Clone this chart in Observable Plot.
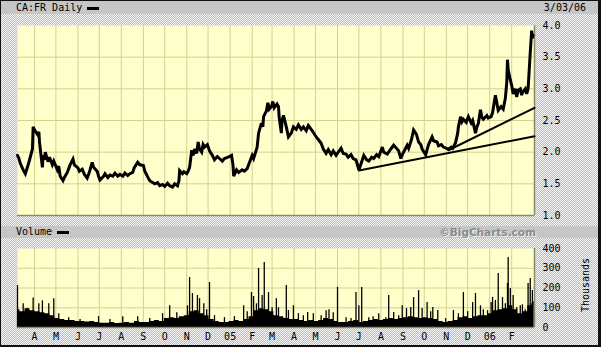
<!DOCTYPE html>
<html><head><meta charset="utf-8">
<script src="https://cdn.jsdelivr.net/npm/d3@7"></script>
<script src="https://cdn.jsdelivr.net/npm/@observablehq/plot@0.6"></script>
<style>
body{margin:0;background:#fff;}
#c{position:relative;width:601px;height:347px;overflow:hidden;
 background:repeating-conic-gradient(#bcbcbc 0 25%, #f6f6f6 0 50%) 0 0/2px 2px;
 font-family:"DejaVu Sans Mono",monospace;font-size:10px;color:#000;}
.hdr{position:absolute;left:1px;right:3px;background:#c6c6c6;}
.hdr span{position:absolute;line-height:13px;}
.dash{display:inline-block;width:12px;height:3px;background:#000;vertical-align:middle;margin-left:5px;}
#border{position:absolute;left:0;top:0;width:601px;height:347px;box-sizing:border-box;border:1px solid #111;border-right:3px solid #111;border-bottom:2px solid #111;pointer-events:none;}
.pl{position:absolute;left:0;}
#thou{position:absolute;left:556px;top:279px;width:60px;text-align:center;transform:rotate(-90deg);line-height:12px;font-size:10px;}
#bc{font-family:"DejaVu Sans",sans-serif;font-weight:bold;color:#8a8a8a;text-shadow:1px 1px 0 #eee;font-size:10.5px;}
</style></head>
<body>
<div id="c">
  <div class="hdr" style="top:1px;height:13px;"><span style="left:15px;top:0">CA:FR Daily<span class="dash" style="position:static"></span></span><span style="right:12px;top:0">3/03/06</span></div>
  <div class="hdr" style="top:226px;height:12px;"><span style="left:15px;top:0;line-height:12px">Volume<span class="dash" style="position:static"></span></span><span id="bc" style="right:62px;top:0;line-height:12px">©BigCharts.com</span></div>
  <div id="p1" class="pl" style="top:0"></div>
  <div id="p2" class="pl" style="top:240px"></div>
  <div id="thou">Thousands</div>
  <div id="border"></div>
</div>
<script>
// ---- data ----
// daily close, [date, price]
const priceSeries = [
["2004-03-08",1.95],["2004-03-10",1.90],["2004-03-12",1.82],["2004-03-16",1.72],["2004-03-19",1.66],["2004-03-23",1.80],["2004-03-25",1.88],["2004-03-29",2.05],["2004-03-30",2.40],["2004-04-01",2.35],["2004-04-05",2.28],["2004-04-07",2.32],["2004-04-08",2.15],["2004-04-12",1.76],["2004-04-13",1.95],["2004-04-15",1.88],["2004-04-16",2.00],["2004-04-20",1.85],["2004-04-22",1.92],["2004-04-26",1.80],["2004-04-28",1.86],
["2004-05-03",1.72],["2004-05-05",1.78],["2004-05-07",1.62],["2004-05-11",1.55],["2004-05-13",1.60],["2004-05-17",1.68],["2004-05-19",1.74],["2004-05-21",1.80],["2004-05-25",1.89],["2004-05-27",1.80],["2004-06-01",1.75],["2004-06-03",1.70],["2004-06-07",1.73],["2004-06-10",1.65],["2004-06-14",1.59],["2004-06-16",1.65],["2004-06-18",1.72],["2004-06-21",1.84],["2004-06-23",1.76],["2004-06-28",1.70],["2004-06-30",1.62],
["2004-07-02",1.56],["2004-07-07",1.62],["2004-07-09",1.66],["2004-07-13",1.60],["2004-07-16",1.64],["2004-07-20",1.62],["2004-07-23",1.67],["2004-07-27",1.62],["2004-07-30",1.65],["2004-08-03",1.62],["2004-08-06",1.67],["2004-08-10",1.63],["2004-08-13",1.66],["2004-08-17",1.68],["2004-08-19",1.75],["2004-08-24",1.84],["2004-08-27",1.80],["2004-09-01",1.79],["2004-09-03",1.70],["2004-09-08",1.59],["2004-09-10",1.55],["2004-09-14",1.52],["2004-09-17",1.50],["2004-09-21",1.52],["2004-09-24",1.47],["2004-09-28",1.49],
["2004-10-01",1.46],["2004-10-05",1.51],["2004-10-08",1.47],["2004-10-12",1.45],["2004-10-15",1.50],["2004-10-19",1.47],["2004-10-21",1.55],["2004-10-22",1.71],["2004-10-26",1.66],["2004-10-28",1.69],["2004-11-01",1.66],["2004-11-03",1.70],["2004-11-05",1.76],["2004-11-08",2.03],["2004-11-10",1.95],["2004-11-12",2.05],["2004-11-15",1.98],["2004-11-17",2.16],["2004-11-19",2.05],["2004-11-22",2.00],["2004-11-24",2.12],["2004-11-26",2.08],["2004-11-30",2.12],
["2004-12-03",2.02],["2004-12-07",1.95],["2004-12-10",1.88],["2004-12-14",1.93],["2004-12-17",1.90],["2004-12-21",1.86],["2004-12-24",1.90],["2004-12-29",1.92],["2005-01-03",1.95],["2005-01-05",1.80],["2005-01-06",1.62],["2005-01-10",1.72],["2005-01-13",1.68],["2005-01-18",1.72],["2005-01-21",1.70],["2005-01-25",1.74],["2005-01-27",1.80],
["2005-02-01",1.95],["2005-02-03",1.90],["2005-02-08",2.08],["2005-02-10",2.30],["2005-02-14",2.46],["2005-02-16",2.40],["2005-02-17",2.56],["2005-02-21",2.65],["2005-02-23",2.78],["2005-02-25",2.68],["2005-02-28",2.72],["2005-03-02",2.80],["2005-03-04",2.70],["2005-03-08",2.76],["2005-03-10",2.72],["2005-03-11",2.55],["2005-03-14",2.30],["2005-03-15",2.50],["2005-03-17",2.58],["2005-03-21",2.40],["2005-03-24",2.24],["2005-03-28",2.30],["2005-03-31",2.40],
["2005-04-04",2.36],["2005-04-07",2.43],["2005-04-11",2.36],["2005-04-14",2.40],["2005-04-18",2.34],["2005-04-21",2.42],["2005-04-25",2.36],["2005-04-27",2.33],["2005-05-02",2.24],["2005-05-05",2.20],["2005-05-09",2.14],["2005-05-12",2.05],["2005-05-16",1.98],["2005-05-19",2.04],["2005-05-23",1.96],["2005-05-26",2.02],["2005-05-30",1.95],
["2005-06-02",2.00],["2005-06-06",2.06],["2005-06-09",1.98],["2005-06-13",1.97],["2005-06-16",1.92],["2005-06-20",1.96],["2005-06-23",1.90],["2005-06-27",1.88],["2005-06-29",1.80],["2005-07-01",1.72],["2005-07-05",1.85],["2005-07-08",1.95],["2005-07-12",1.88],["2005-07-15",1.86],["2005-07-19",1.92],["2005-07-22",1.90],["2005-07-26",1.96],["2005-07-29",1.93],
["2005-08-03",2.08],["2005-08-05",2.00],["2005-08-10",1.97],["2005-08-15",2.05],["2005-08-19",2.11],["2005-08-23",2.06],["2005-08-26",2.02],["2005-08-29",1.90],["2005-09-01",1.98],["2005-09-07",2.11],["2005-09-09",2.06],["2005-09-13",2.20],["2005-09-16",2.35],["2005-09-20",2.28],["2005-09-23",2.16],["2005-09-26",2.12],["2005-09-28",2.05],
["2005-10-03",1.96],["2005-10-05",2.04],["2005-10-07",2.12],["2005-10-12",2.24],["2005-10-14",2.18],["2005-10-19",2.16],["2005-10-21",2.10],["2005-10-25",2.12],["2005-10-28",2.08],["2005-11-01",2.06],["2005-11-04",2.05],["2005-11-08",2.08],["2005-11-10",2.06],["2005-11-14",2.15],["2005-11-17",2.30],["2005-11-18",2.40],["2005-11-21",2.56],["2005-11-23",2.48],["2005-11-25",2.52],["2005-11-29",2.47],
["2005-12-02",2.56],["2005-12-06",2.46],["2005-12-08",2.50],["2005-12-12",2.30],["2005-12-14",2.40],["2005-12-16",2.45],["2005-12-19",2.67],["2005-12-21",2.55],["2005-12-23",2.52],["2005-12-28",2.58],["2005-12-30",2.54],["2006-01-03",2.56],["2006-01-05",2.62],["2006-01-09",2.90],["2006-01-11",2.78],["2006-01-13",2.66],["2006-01-17",2.72],["2006-01-20",2.68],["2006-01-23",2.85],["2006-01-25",3.10],["2006-01-26",3.46],["2006-01-27",3.30],["2006-01-30",3.14],
["2006-02-01",3.05],["2006-02-03",2.92],["2006-02-06",3.00],["2006-02-08",2.87],["2006-02-10",2.98],["2006-02-13",3.00],["2006-02-15",2.90],["2006-02-16",2.94],["2006-02-20",3.00],["2006-02-22",2.92],["2006-02-24",3.00],["2006-02-27",3.57],["2006-03-01",3.92],["2006-03-02",3.80],["2006-03-03",3.85]
];

const trend1Dates = ["2005-07-01","2006-03-05"];
const trend1Values = [1.71, 2.25];
const trend2Dates = ["2005-11-04","2006-03-05"];
const trend2Values = [2.03, 2.70];

const volBaseDates = ["2004-03-08","2004-03-15","2004-03-22","2004-03-29","2004-04-05","2004-04-12","2004-04-19","2004-04-26","2004-05-03","2004-05-10","2004-05-17","2004-05-24","2004-06-01","2004-06-07","2004-06-14","2004-06-21","2004-06-28","2004-07-05","2004-07-12","2004-07-19","2004-07-26","2004-08-02","2004-08-09","2004-08-16","2004-08-23","2004-08-30","2004-09-06","2004-09-13","2004-09-20","2004-09-27","2004-10-04","2004-10-11","2004-10-18","2004-10-25","2004-11-01","2004-11-08","2004-11-15","2004-11-22","2004-11-29","2004-12-06","2004-12-13","2004-12-20","2004-12-27","2005-01-03","2005-01-10","2005-01-17","2005-01-24","2005-01-31","2005-02-07","2005-02-14","2005-02-21","2005-02-28","2005-03-07","2005-03-14","2005-03-21","2005-03-28","2005-04-04","2005-04-11","2005-04-18","2005-04-25","2005-05-02","2005-05-09","2005-05-16","2005-05-23","2005-05-30","2005-06-06","2005-06-13","2005-06-20","2005-06-27","2005-07-04","2005-07-11","2005-07-18","2005-07-25","2005-08-01","2005-08-08","2005-08-15","2005-08-22","2005-08-29","2005-09-05","2005-09-12","2005-09-19","2005-09-26","2005-10-03","2005-10-10","2005-10-17","2005-10-24","2005-10-31","2005-11-07","2005-11-14","2005-11-21","2005-11-28","2005-12-05","2005-12-12","2005-12-19","2005-12-26","2006-01-02","2006-01-09","2006-01-16","2006-01-23","2006-01-30","2006-02-06","2006-02-13","2006-02-20","2006-02-27","2006-03-03"];
const volBaseValues = [90,80,95,85,80,75,70,60,45,40,35,35,30,30,28,30,25,22,22,25,20,22,25,22,30,25,25,30,35,30,45,50,45,55,60,80,85,70,60,40,30,25,25,30,35,30,40,55,85,95,90,80,60,55,45,40,40,35,30,35,30,35,45,40,30,25,25,30,35,25,30,35,40,35,40,45,40,45,50,55,50,45,50,45,40,30,25,30,35,50,55,45,55,60,60,70,85,90,95,110,90,70,80,110,120];

const volSpikeDates = ["2004-03-08","2004-03-16","2004-03-22","2004-03-30","2004-04-07","2004-04-12","2004-04-21","2004-04-28","2004-05-05","2004-05-19","2004-06-04","2004-06-30","2004-07-16","2004-08-03","2004-08-24","2004-09-10","2004-09-28","2004-10-08","2004-10-18","2004-11-02","2004-11-05","2004-11-09","2004-11-16","2004-11-19","2004-11-25","2004-11-29","2004-12-03","2004-12-10","2004-12-24","2005-01-07","2005-01-20","2005-01-25","2005-01-31","2005-02-03","2005-02-07","2005-02-10","2005-02-15","2005-02-18","2005-02-24","2005-03-01","2005-03-07","2005-03-10","2005-03-21","2005-03-24","2005-03-31","2005-04-07","2005-04-14","2005-04-20","2005-04-28","2005-05-09","2005-05-16","2005-05-20","2005-05-26","2005-06-01","2005-06-13","2005-06-20","2005-06-27","2005-07-01","2005-07-05","2005-07-15","2005-07-21","2005-07-29","2005-08-08","2005-08-12","2005-08-19","2005-08-26","2005-08-31","2005-09-06","2005-09-12","2005-09-16","2005-09-23","2005-09-28","2005-10-05","2005-10-10","2005-10-13","2005-10-20","2005-10-31","2005-11-11","2005-11-18","2005-11-25","2005-12-01","2005-12-08","2005-12-12","2005-12-19","2005-12-23","2005-12-29","2006-01-03","2006-01-05","2006-01-09","2006-01-13","2006-01-19","2006-01-23","2006-01-26","2006-01-27","2006-01-30","2006-02-03","2006-02-08","2006-02-13","2006-02-16","2006-02-20","2006-02-24","2006-02-27","2006-03-02","2006-03-03"];
const volSpikeValues = [212,120,95,150,120,135,120,146,70,50,40,55,40,55,55,45,70,110,75,110,253,172,162,146,120,90,228,60,50,55,110,80,177,157,120,299,162,329,177,100,146,100,213,86,110,70,60,76,70,60,85,90,75,203,50,45,177,110,203,50,55,70,50,162,76,60,110,96,101,152,187,96,126,80,101,86,45,86,70,177,80,126,172,110,90,85,126,152,137,273,152,120,223,354,198,162,100,110,115,90,223,248,187,130];

const monthTicks = ["2004-04-01","2004-05-01","2004-06-01","2004-07-01","2004-08-01","2004-09-01","2004-10-01","2004-11-01","2004-12-01","2005-01-01","2005-02-01","2005-03-01","2005-04-01","2005-05-01","2005-06-01","2005-07-01","2005-08-01","2005-09-01","2005-10-01","2005-11-01","2005-12-01","2006-01-01","2006-02-01"];
const monthLabels = ["A","M","J","J","A","S","O","N","D","05","F","M","A","M","J","J","A","S","O","N","D","06","F"];
const priceTicks = [1.0,1.5,2.0,2.5,3.0,3.5,4.0];
const volTicks = [0,100,200,300,400];

// ---- build ----
const D = s => new Date(s + "T00:00:00Z");
const zip = (ds, vs) => ds.map((d, i) => ({date: D(d), value: vs[i]}));
const price = priceSeries.map(([d, v]) => ({date: D(d), value: v}));
const trend1 = zip(trend1Dates, trend1Values);
const trend2 = zip(trend2Dates, trend2Values);
const volBase = zip(volBaseDates, volBaseValues);
const volSpikes = zip(volSpikeDates, volSpikeValues);
const months = monthTicks.map(D);
const labelMap = new Map(months.map((d, i) => [+d, monthLabels[i]]));
const xDomain = [D("2004-03-08"), D("2006-03-05")];
const gridColor = "#d6d08e";
const bg = "#ffffcc";
const svgStyle = {background: "none", fontFamily: "'DejaVu Sans Mono', monospace", fontSize: "10px", color: "#000", overflow: "visible"};

const p1 = Plot.plot({
  width: 601, height: 228,
  marginLeft: 17, marginRight: 67, marginTop: 25, marginBottom: 13,
  style: svgStyle,
  x: {type: "utc", domain: xDomain, axis: null},
  y: {domain: [1, 4], axis: null},
  marks: [
    Plot.frame({fill: bg, stroke: null}),
    Plot.ruleX(months, {stroke: gridColor, strokeWidth: 1}),
    Plot.ruleY(priceTicks.slice(1, -1), {stroke: gridColor, strokeWidth: 1}),
    Plot.ruleY([1], {stroke: "#8a8a6a", strokeWidth: 1.5}),
    Plot.ruleX([xDomain[1]], {stroke: "#8a8a6a", strokeWidth: 1.5}),
    Plot.line(price, {x: "date", y: "value", stroke: "#000", strokeWidth: 3, strokeLinejoin: "miter", strokeMiterlimit: 3}),
    Plot.line(trend1, {x: "date", y: "value", stroke: "#000", strokeWidth: 2}),
    Plot.line(trend2, {x: "date", y: "value", stroke: "#000", strokeWidth: 2}),
    Plot.axisY(priceTicks, {anchor: "right", tickSize: 0, tickPadding: 8, tickFormat: d3.format(".1f"), label: null, fontSize: 10})
  ]
});
document.getElementById("p1").appendChild(p1);

const p2 = Plot.plot({
  width: 601, height: 107,
  marginLeft: 17, marginRight: 67, marginTop: 8, marginBottom: 20,
  style: svgStyle,
  x: {type: "utc", domain: xDomain, axis: null},
  y: {domain: [0, 400], axis: null},
  marks: [
    Plot.frame({fill: bg, stroke: null}),
    Plot.ruleX(months, {stroke: gridColor, strokeWidth: 1}),
    Plot.ruleY(volTicks.slice(1, -1), {stroke: gridColor, strokeWidth: 1}),
    Plot.areaY(volBase, {x: "date", y: "value", fill: "#000", curve: "step"}),
    Plot.ruleX(volSpikes, {x: "date", y1: 0, y2: "value", stroke: "#000", strokeWidth: 1.3}),
    Plot.ruleY([0], {stroke: "#8a8a6a", strokeWidth: 1.5}),
    Plot.ruleX([xDomain[1]], {stroke: "#8a8a6a", strokeWidth: 1.5}),
    Plot.axisY(volTicks, {anchor: "right", tickSize: 0, tickPadding: 8, tickFormat: d3.format("d"), label: null, fontSize: 10}),
    Plot.axisX(months, {anchor: "bottom", tickSize: 0, tickPadding: 5, tickFormat: d => labelMap.get(+d), label: null, fontSize: 10})
  ]
});
document.getElementById("p2").appendChild(p2);
</script>
</body></html>
